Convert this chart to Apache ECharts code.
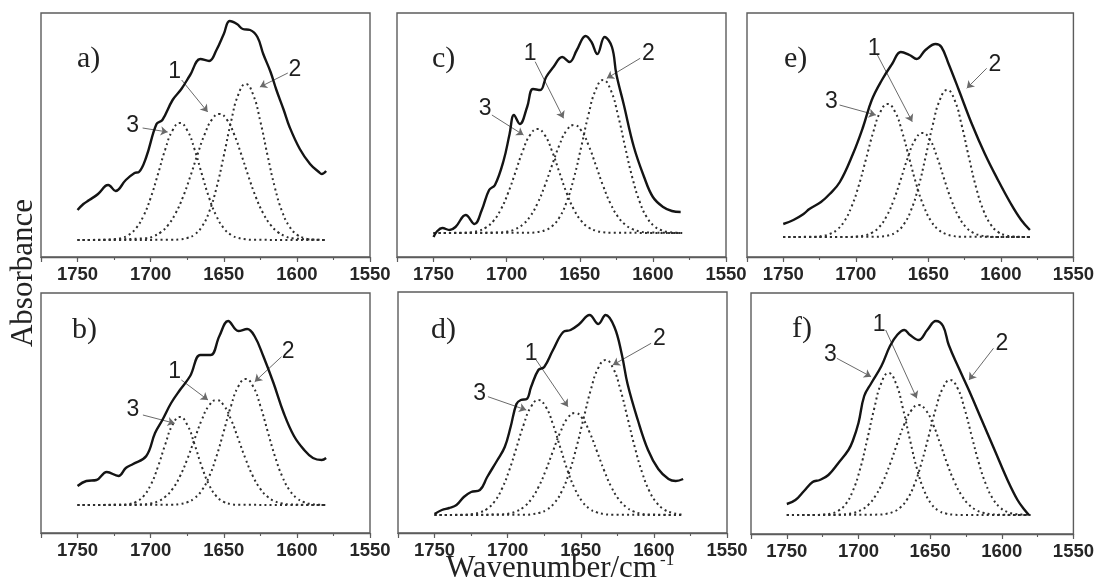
<!DOCTYPE html>
<html>
<head>
<meta charset="utf-8">
<script src="https://cdn.jsdelivr.net/npm/echarts@6/dist/echarts.min.js"></script>
<style>
  html, body { margin: 0; padding: 0; background: #ffffff; }
  #chart { width: 1097px; height: 586px; }
</style>
</head>
<body>
<div id="chart"></div>
<script>
// Amide I region: measured spectrum (solid) and fitted bands 1-3 (dotted), six samples a)-f).
// Every series is a list of [wavenumber (cm-1), absorbance (a.u.)] pairs.

const xTickLabels = [1750, 1700, 1650, 1600, 1550];
const panelNames = ['a)', 'b)', 'c)', 'd)', 'e)', 'f)'];
const bandNames = ['1', '2', '3'];

// ---- a) ----
const spectrumA = [[1750,47],[1746,53],[1742,57],[1736,63],[1731,71],[1729,72],[1724,66],[1717,77],[1711,84],[1708,85],[1703,100],[1696,133],[1692,137],[1685,157],[1679,168],[1673,182],[1666,198],[1660,196],[1655,207],[1650,223],[1646,236],[1641,233],[1637,228],[1632,227],[1627,220],[1623,203],[1618,185],[1614,167],[1609,147],[1605,130],[1598,108],[1591,93],[1585,85],[1583,83],[1580,86]];
const band1A = [[1750,17],[1703,18.7],[1698,20.8],[1693,24.9],[1688,32.1],[1683,43.6],[1678,59.7],[1673,80.1],[1668,102.4],[1663,123],[1658,137.7],[1653,143],[1648,137.7],[1643,123],[1638,102.4],[1633,80.1],[1628,59.7],[1623,43.6],[1618,32.1],[1613,24.9],[1608,20.8],[1603,18.7],[1580,17]];
const band2A = [[1750,17],[1685,17.2],[1680,17.6],[1675,19],[1670,22.4],[1665,30.3],[1660,45.1],[1655,69.1],[1650,101.2],[1645,135.6],[1640,162.7],[1635,173],[1630,162.7],[1625,135.6],[1620,101.2],[1615,69.1],[1610,45.1],[1605,30.3],[1600,22.4],[1595,19],[1590,17.6],[1585,17.2],[1580,17]];
const band3A = [[1750,17],[1730,17.2],[1725,17.7],[1720,19],[1715,22.1],[1710,28.8],[1705,40.8],[1700,59.1],[1695,82.9],[1690,107.7],[1685,126.7],[1680,134],[1675,126.7],[1670,107.7],[1665,82.9],[1660,59.1],[1655,40.8],[1650,28.8],[1645,22.1],[1640,19],[1635,17.7],[1630,17.2],[1580,17]];

// ---- b) ----
const spectrumB = [[1750,47],[1744,52],[1737,53],[1730,61],[1722,57],[1717,65],[1712,69],[1703,77],[1697,100],[1692,113],[1686,130],[1680,143],[1673,157],[1666,178],[1659,178],[1653,197],[1647,212],[1640,202],[1634,204],[1629,197],[1623,177],[1616,150],[1609,120],[1602,97],[1595,83],[1589,75],[1583,73],[1580,75]];
const band1B = [[1750,28],[1705,28.6],[1700,29.5],[1695,31.7],[1690,36.2],[1685,44.1],[1680,56.6],[1675,73.7],[1670,93.7],[1665,113.3],[1660,127.6],[1655,133],[1650,127.6],[1645,113.3],[1640,93.7],[1635,73.7],[1630,56.6],[1625,44.1],[1620,36.2],[1615,31.7],[1610,29.5],[1605,28.6],[1580,28]];
const band2B = [[1750,28],[1685,28.3],[1680,29],[1675,30.8],[1670,34.8],[1665,42.7],[1660,56.5],[1655,76.6],[1650,101.7],[1645,127.3],[1640,146.7],[1635,154],[1630,146.7],[1625,127.3],[1620,101.7],[1615,76.6],[1610,56.5],[1605,42.7],[1600,34.8],[1595,30.8],[1590,29],[1585,28.3],[1580,28]];
const band3B = [[1750,28],[1720,28.2],[1715,28.9],[1710,31.1],[1705,36.7],[1700,48],[1695,66.3],[1690,88.7],[1685,108.3],[1680,116],[1675,108.3],[1670,88.7],[1665,66.3],[1660,48],[1655,36.7],[1650,31.1],[1645,28.9],[1640,28.2],[1580,28]];

// ---- c) ----
const spectrumC = [[1750,20],[1748,25],[1744,29],[1739,27],[1735,30],[1728,42],[1722,33],[1717,47],[1712,67],[1708,72],[1702,97],[1698,123],[1695,142],[1691,133],[1686,150],[1682,168],[1677,167],[1673,180],[1668,190],[1662,200],[1657,195],[1652,207],[1646,221],[1642,215],[1638,203],[1633,220],[1628,210],[1625,183],[1620,153],[1613,110],[1606,80],[1600,60],[1593,50],[1587,46],[1581,45]];
const band1C = [[1750,24],[1704,24.6],[1699,25.6],[1694,27.9],[1689,32.4],[1684,40.5],[1679,53.4],[1674,71],[1669,91.6],[1664,111.7],[1659,126.5],[1654,132],[1649,126.5],[1644,111.7],[1639,91.6],[1634,71],[1629,53.4],[1624,40.5],[1619,32.4],[1614,27.9],[1609,25.6],[1604,24.6],[1580,24]];
const band2C = [[1750,24],[1684,24.3],[1679,24.9],[1674,26.6],[1669,30.7],[1664,39.4],[1659,55.1],[1654,79.1],[1649,110.1],[1644,142.6],[1639,167.5],[1634,177],[1629,167.5],[1624,142.6],[1619,110.1],[1614,79.1],[1609,55.1],[1604,39.4],[1599,30.7],[1594,26.6],[1589,24.9],[1584,24.3],[1580,24]];
const band3C = [[1750,24],[1729,24.3],[1724,24.8],[1719,26.3],[1714,29.6],[1709,36.2],[1704,47.5],[1699,64.1],[1694,84.8],[1689,106],[1684,122],[1679,128],[1674,122],[1669,106],[1664,84.8],[1659,64.1],[1654,47.5],[1649,36.2],[1644,29.6],[1639,26.3],[1634,24.8],[1629,24.3],[1580,24]];

// ---- d) ----
const spectrumD = [[1750,19],[1745,23],[1740,25],[1735,28],[1730,36],[1725,41],[1719,43],[1714,56],[1707,73],[1702,86],[1698,106],[1694,129],[1691,133],[1687,134],[1684,146],[1679,163],[1675,166],[1669,183],[1662,201],[1657,203],[1651,209],[1644,218],[1638,209],[1633,218],[1627,206],[1622,179],[1618,149],[1611,113],[1604,83],[1597,64],[1590,54],[1585,52],[1580,54]];
const band1D = [[1750,18],[1704,18.6],[1699,19.5],[1694,21.6],[1689,26],[1684,33.6],[1679,45.7],[1674,62.4],[1669,81.9],[1664,100.8],[1659,114.8],[1654,120],[1649,114.8],[1644,100.8],[1639,81.9],[1634,62.4],[1629,45.7],[1624,33.6],[1619,26],[1614,21.6],[1609,19.5],[1604,18.6],[1580,18]];
const band2D = [[1750,18],[1688,18.3],[1683,18.9],[1678,20.3],[1673,23.5],[1668,30.1],[1663,41.7],[1658,60.2],[1653,85.4],[1648,115],[1643,143.9],[1638,165.1],[1633,173],[1628,165.1],[1623,143.9],[1618,115],[1613,85.4],[1608,60.2],[1603,41.7],[1598,30.1],[1593,23.5],[1588,20.3],[1583,18.9],[1580,18.4]];
const band3D = [[1750,18],[1729,18.3],[1724,18.9],[1719,20.6],[1714,24.2],[1709,31.5],[1704,44],[1699,62.4],[1694,85.3],[1689,108.6],[1684,126.3],[1679,133],[1674,126.3],[1669,108.6],[1664,85.3],[1659,62.4],[1654,44],[1649,31.5],[1644,24.2],[1639,20.6],[1634,18.9],[1629,18.3],[1580,18]];

// ---- e) ----
const spectrumE = [[1750,33],[1743,37],[1736,43],[1732,48],[1724,55],[1718,63],[1711,75],[1702,103],[1695,130],[1689,157],[1682,177],[1675,193],[1669,205],[1663,202],[1658,198],[1652,207],[1645,213],[1641,210],[1636,193],[1629,167],[1620,133],[1611,103],[1602,77],[1593,53],[1586,37],[1580,27]];
const band1E = [[1750,20],[1704,20.1],[1699,20.5],[1694,21.6],[1689,24.2],[1684,29.8],[1679,40.2],[1674,56.4],[1669,77.6],[1664,100],[1659,117.4],[1654,124],[1649,117.4],[1644,100],[1639,77.6],[1634,56.4],[1629,40.2],[1624,29.8],[1619,24.2],[1614,21.6],[1609,20.5],[1604,20.1],[1580,20]];
const band2E = [[1750,20],[1687,20.2],[1682,20.6],[1677,21.8],[1672,25.1],[1667,32.5],[1662,46.5],[1657,69.1],[1652,99.4],[1647,131.7],[1642,157.3],[1637,167],[1632,157.3],[1627,131.7],[1622,99.4],[1617,69.1],[1612,46.5],[1607,32.5],[1602,25.1],[1597,21.8],[1592,20.6],[1587,20.2],[1580,20]];
const band3E = [[1750,20],[1728,20.3],[1723,21.1],[1718,23],[1713,27.2],[1708,35.6],[1703,50.1],[1698,71.3],[1693,97.8],[1688,124.8],[1683,145.3],[1678,153],[1673,145.3],[1668,124.8],[1663,97.8],[1658,71.3],[1653,50.1],[1648,35.6],[1643,27.2],[1638,23],[1633,21.1],[1628,20.3],[1580,20]];

// ---- f) ----
const spectrumF = [[1750,30],[1744,34],[1738,43],[1732,52],[1727,54],[1721,59],[1714,71],[1707,84],[1704,93],[1700,111],[1696,138],[1691,151],[1684,168],[1678,188],[1673,199],[1668,204],[1664,199],[1658,194],[1652,204],[1646,213],[1641,208],[1637,189],[1630,166],[1623,144],[1614,114],[1605,84],[1596,54],[1589,34],[1584,24],[1581,19]];
const band1F = [[1750,19],[1713,19.3],[1708,19.9],[1703,21.2],[1698,24.1],[1693,29.4],[1688,38.5],[1683,52.1],[1678,69.9],[1673,90.4],[1668,109.8],[1663,123.8],[1658,129],[1653,123.8],[1648,109.8],[1643,90.4],[1638,69.9],[1633,52.1],[1628,38.5],[1623,29.4],[1618,24.1],[1613,21.2],[1608,19.9],[1603,19.3],[1580,19]];
const band2F = [[1750,19],[1686,19.4],[1681,20.1],[1676,22],[1671,26.3],[1666,34.8],[1661,49.5],[1656,71.1],[1651,98],[1646,125.4],[1641,146.2],[1636,154],[1631,146.2],[1626,125.4],[1621,98],[1616,71.1],[1611,49.5],[1606,34.8],[1601,26.3],[1596,22],[1591,20.1],[1586,19.4],[1580,19.1]];
const band3F = [[1750,19],[1729,19.1],[1724,19.4],[1719,20.5],[1714,23.3],[1709,29.8],[1704,42.9],[1699,64.3],[1694,93.7],[1689,125.6],[1684,151.2],[1679,161],[1674,151.2],[1669,125.6],[1664,93.7],[1659,64.3],[1654,42.9],[1649,29.8],[1644,23.3],[1639,20.5],[1634,19.4],[1629,19.1],[1580,19]];

// ---- layout: frame boxes, panel tags and band call-outs (label spot, arrow tail, arrow head) ----
const panels = [
  { name: panelNames[0], box: { left: 41, top: 13, width: 329, height: 244 }, tag: { left: 77, top: 44 },
    spectrum: spectrumA, bands: [band1A, band2A, band3A],
    callouts: [
      { at: [1712.3, 131], from: [1705.5, 129], to: [1688.4, 125] },   // 3
      { at: [1683.6, 185], from: [1678.8, 177], to: [1661, 145] },     // 1
      { at: [1601.4, 187], from: [1606.2, 184], to: [1625.3, 170] }    // 2
    ] },
  { name: panelNames[1], box: { left: 41, top: 293, width: 329, height: 240 }, tag: { left: 72, top: 315 },
    spectrum: spectrumB, bands: [band1B, band2B, band3B],
    callouts: [
      { at: [1712.1, 123], from: [1705.3, 118], to: [1683.6, 109.7] },
      { at: [1683.6, 161.3], from: [1679, 153], to: [1660.8, 133] },
      { at: [1606, 181.3], from: [1610.5, 176.3], to: [1628.8, 151.3] }
    ] },
  { name: panelNames[2], box: { left: 397, top: 13, width: 329, height: 244 }, tag: { left: 432, top: 44 },
    spectrum: spectrumC, bands: [band1C, band2C, band3C],
    callouts: [
      { at: [1714.7, 148.7], from: [1710.1, 142], to: [1688.5, 122] },
      { at: [1683.9, 203.7], from: [1680.5, 195.3], to: [1661.1, 138.7] },
      { at: [1603, 203.7], from: [1608.7, 198.7], to: [1631.5, 178.7] }
    ] },
  { name: panelNames[3], box: { left: 398, top: 292, width: 329, height: 241 }, tag: { left: 431, top: 315 },
    spectrum: spectrumD, bands: [band1D, band2D, band3D],
    callouts: [
      { at: [1719.2, 139.7], from: [1713.5, 136.3], to: [1687.3, 123] },
      { at: [1683.9, 179.7], from: [1680.5, 173], to: [1658.8, 126.3] },
      { at: [1596.2, 194.7], from: [1601.9, 189.7], to: [1628.1, 168] }
    ] },
  { name: panelNames[4], box: { left: 747, top: 13, width: 329, height: 244 }, tag: { left: 784, top: 44 },
    spectrum: spectrumE, bands: [band1E, band2E, band3E],
    callouts: [
      { at: [1716.9, 155.3], from: [1711.2, 152], to: [1686.2, 142] },
      { at: [1687.3, 208.7], from: [1685.1, 202], to: [1661.1, 135.3] },
      { at: [1604.1, 192], from: [1609.8, 188.7], to: [1623.5, 168.7] }
    ] },
  { name: panelNames[5], box: { left: 751, top: 293, width: 329, height: 241 }, tag: { left: 792, top: 314 },
    spectrum: spectrumF, bands: [band1F, band2F, band3F],
    callouts: [
      { at: [1719.6, 179], from: [1715.1, 175.7], to: [1691.2, 157.3] },
      { at: [1685.5, 209], from: [1681, 204], to: [1659.3, 135.7] },
      { at: [1600, 190.7], from: [1605.8, 185.7], to: [1622.9, 154] }
    ] }
];
// call-out order in each panel: band 3, band 1, band 2
const calloutBand = [2, 0, 1];

const FRAME = '#5c5c5c';
const serif = '"Liberation Serif", "Times New Roman", serif';
const sans = '"Liberation Sans", Arial, sans-serif';

const grid = [], xAxis = [], yAxis = [], series = [], title = [];

panels.forEach((p, i) => {
  grid.push(Object.assign({ show: true, borderColor: FRAME, borderWidth: 1.4, backgroundColor: 'transparent' }, p.box));

  // labelled axis, major ticks every 50 cm-1
  xAxis.push({
    gridIndex: i, type: 'value', min: 1550, max: 1775, interval: 50, inverse: true, position: 'bottom',
    axisLine: { show: true, lineStyle: { color: FRAME, width: 1.4 } },
    axisTick: { show: true, inside: false, length: 5, lineStyle: { color: FRAME, width: 1.2 } },
    axisLabel: {
      show: true, margin: 8, color: '#262626', fontFamily: sans, fontWeight: 'bold', fontSize: 18.5,
      formatter: v => (xTickLabels.indexOf(v) >= 0 ? String(v) : '')
    },
    splitLine: { show: false }
  });
  // short intermediate ticks every 25 cm-1
  xAxis.push({
    gridIndex: i, type: 'value', min: 1550, max: 1775, interval: 25, inverse: true, position: 'bottom',
    axisLine: { show: false },
    axisTick: { show: true, inside: false, length: 3, lineStyle: { color: FRAME, width: 1.1 } },
    axisLabel: { show: false },
    splitLine: { show: false }
  });
  yAxis.push({ gridIndex: i, type: 'value', min: 0, max: p.box.height, show: false, splitLine: { show: false } });

  p.bands.forEach((band, k) => {
    series.push({
      name: p.name + ' ' + bandNames[k], type: 'line', xAxisIndex: 2 * i, yAxisIndex: i,
      data: band, smooth: 0.5, showSymbol: false, silent: true,
      lineStyle: { color: '#2e2e2e', width: 2, type: [2, 3.2], cap: 'butt' }
    });
  });

  series.push({
    name: p.name, type: 'line', xAxisIndex: 2 * i, yAxisIndex: i,
    data: p.spectrum, smooth: 0.4, showSymbol: false, silent: true, z: 5,
    lineStyle: { color: '#141414', width: 2.4 },
    markLine: {
      silent: true, animation: false,
      symbol: 'none', symbolSize: 7,
      lineStyle: { color: '#6a6a6a', width: 1, type: 'solid' },
      itemStyle: { color: '#3a3a3a' },
      label: { show: false },
      data: p.callouts.map(c => [
        { coord: c.from, symbol: 'none' },
        { coord: c.to, symbol: 'arrow', symbolSize: 7 }
      ])
    },
    markPoint: {
      silent: true, animation: false,
      symbol: 'circle', symbolSize: 0,
      label: { show: true, position: 'inside', formatter: '{b}', color: '#1e1e1e', fontFamily: sans, fontSize: 23 },
      data: p.callouts.map((c, k) => ({ name: bandNames[calloutBand[k]], coord: c.at }))
    }
  });

  title.push({
    text: p.name, left: p.tag.left, top: p.tag.top, padding: 0,
    textStyle: { fontFamily: serif, fontSize: 30, fontWeight: 'normal', color: '#222' }
  });
});

const chart = echarts.init(document.getElementById('chart'), null, { renderer: 'canvas' });
chart.setOption({
  animation: false,
  backgroundColor: '#ffffff',
  title, grid, xAxis, yAxis, series,
  graphic: [
    {
      type: 'text', x: 24, y: 273, rotation: Math.PI / 2, silent: true,
      style: { text: 'Absorbance', font: '31px ' + serif, fill: '#222', align: 'center', verticalAlign: 'middle' }
    },
    {
      type: 'text', x: 446, y: 569, silent: true,
      style: { text: 'Wavenumber/cm', font: '31px ' + serif, fill: '#222', align: 'left', verticalAlign: 'middle' }
    },
    {
      type: 'text', x: 660, y: 561, silent: true,
      style: { text: '-1', font: '17px ' + serif, fill: '#222', align: 'left', verticalAlign: 'middle' }
    }
  ]
});
</script>
</body>
</html>
